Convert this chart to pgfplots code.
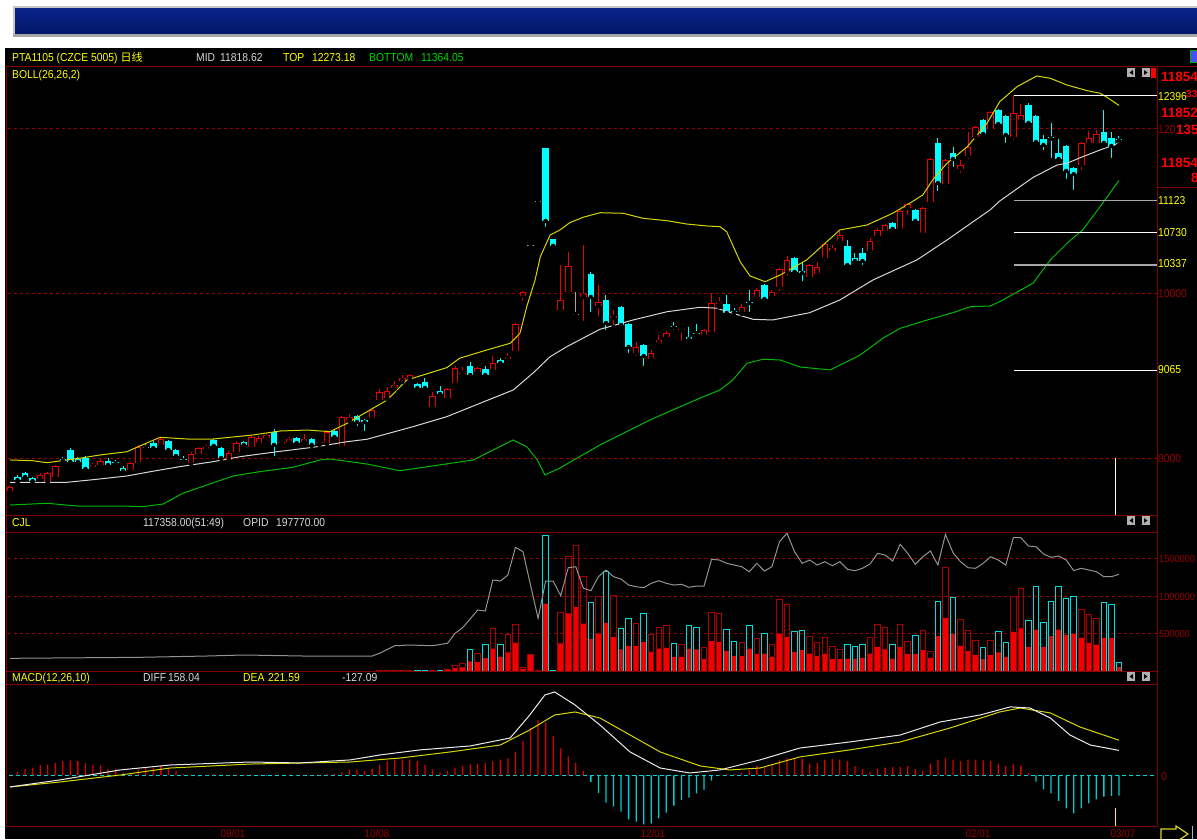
\documentclass[border=0pt]{standalone}
\usepackage{pgfplots}
\pgfplotsset{compat=1.18}
\usepackage{pgfplotstable}
\usepackage{fontspec}
\setmainfont{Liberation Sans}
\newfontfamily\ui{Liberation Sans}[FakeStretch=0.9]
\newfontfamily\cjk{Noto Sans CJK SC}
\definecolor{frame}{RGB}{128,0,0}
\definecolor{gridred}{RGB}{150,0,0}
\definecolor{cred}{RGB}{235,0,0}
\definecolor{ccyan}{RGB}{0,255,255}
\definecolor{bollup}{RGB}{215,215,0}
\definecolor{bollmid}{RGB}{215,215,215}
\definecolor{bolllow}{RGB}{0,185,0}
\definecolor{volred}{RGB}{240,0,0}
\definecolor{voloutred}{RGB}{170,0,0}
\definecolor{voloutcyan}{RGB}{0,220,220}
\definecolor{macdred}{RGB}{215,0,0}
\definecolor{macdcyan}{RGB}{0,205,205}
\definecolor{txtyellow}{RGB}{255,255,0}
\definecolor{txtwhite}{RGB}{215,215,215}
\definecolor{txtgreen}{RGB}{0,215,0}
\definecolor{navyA}{RGB}{10,36,138}
\definecolor{navyB}{RGB}{2,22,105}
\definecolor{darklbl}{RGB}{150,0,0}

% ---------------- candles: i open high low close ----------------
\pgfplotstableread{
i o h l c
0 7600 7661 7588 7649
4 7746 7818 7733 7794
5 7697 7830 7685 7818
6 7770 7915 7758 7903
11 7891 7940 7843 7915
12 7915 7988 7891 7964
16 7855 7952 7843 7940
17 7940 8158 7927 8133
20 8158 8255 8133 8230
24 7940 8073 7927 8049
25 8049 8133 8024 8121
26 8109 8158 8085 8133
29 7976 8085 7964 8061
30 8073 8206 8061 8182
32 8133 8279 8121 8255
33 8182 8267 8170 8242
34 8242 8303 8218 8279
36 8176 8218 8170 8188
37 8194 8255 8182 8230
39 8194 8291 8182 8230
41 8176 8206 8158 8188
42 8182 8339 8170 8315
44 8146 8509 8133 8497
45 8461 8533 8449 8497
48 8485 8606 8473 8582
49 8703 8836 8691 8800
50 8727 8861 8715 8812
51 8849 8933 8836 8885
52 8933 9006 8921 8970
53 8958 9018 8945 9006
56 8618 8800 8606 8752
58 8727 8849 8715 8836
59 8909 9115 8897 9091
60 9024 9103 8982 9036
62 9042 9103 9030 9091
64 9067 9236 9030 9152
66 9200 9273 9188 9224
67 9297 9636 9248 9624
68 9964 10024 9879 10012
73 9794 10339 9794 9915
74 10012 10497 10012 10327
76 9952 10582 9636 9988
78 9842 10097 9697 9891
80 9697 9794 9588 9721
83 9273 9406 9212 9345
85 9200 9309 9152 9273
86 9394 9491 9370 9430
87 9467 9539 9442 9515
89 9546 9564 9394 9558
92 9491 9564 9467 9552
93 9527 10000 9491 9879
94 9867 9952 9830 9891
97 9770 9867 9745 9830
99 9952 10061 9939 10036
101 9964 10036 9915 10012
102 10073 10303 10000 10291
103 10255 10448 10182 10400
106 10194 10352 10158 10339
107 10230 10376 10218 10315
108 10424 10606 10364 10594
109 10509 10582 10485 10545
110 10630 10752 10618 10703
114 10509 10667 10485 10630
115 10691 10788 10679 10764
116 10752 10836 10739 10824
118 10776 11006 10764 10994
119 11030 11091 10921 11079
121 10727 11042 10715 11030
122 11103 11636 11091 11624
124 11321 11624 11261 11612
126 11503 11612 11430 11552
127 11661 11952 11600 11770
128 11891 12024 11830 12012
130 11988 12206 11964 12194
133 11891 12400 11830 12182
134 12097 12291 12048 12158
142 11552 11830 11467 11818
143 11818 11964 11770 11879
144 11818 11976 11806 11927
}\candUp

\pgfplotstableread{
i o h l c
1 7770 7794 7709 7733
2 7818 7830 7758 7770
3 7758 7770 7709 7721
7 7982 8012 7940 7970
8 8097 8121 7940 7952
9 7988 8012 7927 7952
10 8000 8024 7855 7867
13 7964 8000 7903 7915
14 7946 7976 7903 7934
15 7879 7903 7830 7843
19 8182 8206 8109 8121
21 8206 8218 8085 8097
22 8097 8109 8000 8024
23 7982 8024 7952 7970
27 8218 8230 8133 8146
28 8121 8133 7988 8000
31 8194 8206 8146 8158
35 8315 8352 8000 8158
38 8242 8255 8170 8182
40 8230 8242 8146 8158
43 8327 8339 8218 8255
46 8509 8521 8364 8436
47 8461 8473 8303 8436
54 8897 8909 8836 8849
55 8921 8970 8800 8849
57 8812 8873 8752 8776
61 9115 9164 8970 9006
63 9079 9115 8970 9006
65 9188 9212 9127 9152
71 11758 11758 10776 10873
72 10655 10655 10570 10570
77 10230 10255 9745 9952
79 9915 9976 9527 9636
81 9830 9842 9588 9612
82 9624 9636 9248 9345
84 9370 9382 9091 9236
88 9594 9648 9527 9582
90 9467 9588 9430 9442
91 9521 9624 9491 9509
95 9867 9976 9733 9758
96 9776 9818 9721 9764
98 9891 10036 9745 9879
100 10097 10109 9891 9927
104 10424 10436 10242 10255
105 10267 10364 10121 10242
111 10570 10642 10327 10339
112 10424 10485 10364 10388
113 10485 10545 10315 10388
117 10848 10861 10752 10776
120 11006 11018 10824 10873
123 11818 11879 11212 11333
125 11697 11770 11503 11624
129 12097 12109 11903 11927
131 12218 12230 12012 12048
132 12145 12158 11794 11915
135 12279 12303 12048 12061
136 12145 12158 11818 11830
137 11867 11915 11709 11794
138 11885 12061 11612 11873
139 11697 11867 11588 11624
140 11782 11794 11358 11479
141 11515 11527 11224 11442
145 11952 12218 11782 11818
146 11879 11952 11612 11782
147 11861 11903 11794 11849
}\candDown

\pgfplotstableread{
i o h l c
18 8133 8170 8097 8133
69 10570 10570 10521 10570
70 11103 11103 11103 11103
75 9745 10012 9745 9745
}\candGray

% ---------------- volume: i volume inner ----------------
\pgfplotstableread{
i v f
49 8000 8000
50 6000 6000
51 8000 8000
52 5000 5000
53 12000 12000
56 5000 5000
58 20000 20000
59 77000 40000
60 95000 50000
62 240000 120000
64 567000 300000
66 490000 247000
67 614000 375000
68 50000 30000
69 224000 224000
70 10000 10000
73 775000 367000
74 1521000 767000
75 1677000 855000
76 1255000 633000
78 993000 500000
80 1011000 455000
83 633000 335000
85 487000 255000
86 580000 300000
87 611000 308000
89 353000 188000
92 308000 157000
93 780000 397000
94 767000 388000
97 380000 197000
99 433000 224000
101 353000 188000
102 953000 500000
103 891000 455000
106 455000 233000
107 380000 197000
108 441000 228000
109 321000 157000
110 291000 157000
114 447000 233000
115 624000 321000
116 575000 287000
118 624000 321000
119 388000 224000
121 535000 277000
122 255000 175000
124 1375000 708000
126 687000 335000
127 535000 268000
128 401000 211000
130 401000 211000
133 988000 521000
134 1100000 567000
142 820000 441000
143 753000 375000
144 700000 353000
}\volUp

\pgfplotstableread{
i v f
54 5000 5000
55 8000 8000
57 8000 8000
61 287000 130000
63 357000 172000
65 357000 190000
71 1810000 900000
72 10000 5000
77 908000 433000
79 1321000 641000
81 567000 287000
82 700000 335000
84 767000 388000
88 367000 188000
90 611000 300000
91 575000 287000
95 553000 268000
96 397000 197000
98 611000 300000
100 500000 233000
104 521000 255000
105 535000 277000
111 353000 166000
112 321000 166000
113 353000 175000
117 353000 166000
120 468000 228000
123 931000 464000
125 980000 500000
129 308000 157000
131 521000 250000
132 380000 188000
135 677000 321000
136 1121000 553000
137 647000 321000
138 931000 464000
139 1121000 553000
140 967000 477000
141 993000 500000
145 908000 441000
146 887000 441000
147 113000 55000
}\volDown

% ---------------- open interest ----------------
\pgfplotstableread{
i v
0 26000
17 28000
26 30700
31 32800
39 30700
48 30700
49 36300
51 51800
53 53300
56 51800
58 56800
59 77300
60 88700
62 125000
63 123000
64 186500
65 184400
66 196700
67 253500
68 244500
70 108000
71 184400
72 184400
73 154300
74 211700
75 213700
76 169500
77 164600
78 193300
79 207000
80 193300
81 188500
82 176200
83 172800
84 170700
85 179700
86 185100
87 179700
88 176200
89 177700
90 171500
91 174200
92 174200
93 228900
94 227500
95 220700
96 217200
97 213700
98 203500
99 220700
100 204900
101 213700
102 265000
103 282200
104 244500
105 220700
106 227500
107 217200
108 224000
109 215800
110 224000
111 208400
112 205600
113 210500
114 219300
115 241200
116 237700
117 225400
118 259700
119 241200
120 218700
121 234200
122 245900
123 217200
124 280200
125 242400
126 224000
127 211700
128 210500
129 220700
130 234200
131 227500
132 217200
133 273200
134 273200
135 256200
136 254700
137 239800
138 233000
139 235700
140 227500
141 205600
142 210500
143 207000
144 203500
145 193300
146 193300
147 198200
}\oiTab

% ---------------- MACD histogram ----------------
\pgfplotstableread{
i v
1 21
2 42
3 48
4 63
5 69
6 80
7 90
8 95
9 90
10 76
11 69
12 63
13 42
14 38
15 17
16 13
17 38
18 48
19 48
20 59
21 48
22 27
23 10
24 5
26 3
27 8
29 2
30 6
31 4
32 6
33 3
35 5
36 2
37 4
38 3
39 6
40 4
41 2
42 8
43 10
44 21
45 38
46 38
47 27
48 42
49 69
50 90
51 101
52 101
53 101
54 90
55 69
56 38
57 20
58 30
59 50
60 60
61 70
62 75
63 80
64 90
65 100
66 110
67 150
68 220
69 300
70 350
71 330
72 250
73 170
74 120
75 80
76 30
94 3
95 9
96 9
97 18
98 35
99 60
100 55
101 65
102 98
103 110
104 110
105 105
106 75
107 80
108 100
109 105
110 100
111 90
112 60
113 40
114 25
115 45
116 50
117 55
118 55
119 60
120 40
121 30
122 75
123 100
124 110
125 100
126 90
127 100
128 100
129 95
130 90
131 75
132 60
133 70
134 60
135 15
}\macdPos

\pgfplotstableread{
i v
25 -5
28 -4
34 -3
77 -40
78 -110
79 -171
80 -196
81 -228
82 -276
83 -291
84 -307
85 -301
86 -270
87 -234
88 -190
89 -154
90 -140
91 -112
92 -91
93 -33
136 -39
137 -87
138 -112
139 -159
140 -207
141 -238
142 -207
143 -175
144 -150
145 -133
146 -129
147 -127
}\macdNeg

\pgfplotsset{
  panel/.style={scale only axis, hide axis, clip=true, xmin=-0.53, xmax=152.04,
    width=1151pt, anchor=north west},
}
\tikzset{
  lbl/.style={anchor=base west, inner sep=0pt, font=\ui\fontsize{11.5}{13}\selectfont},
  vlbl/.style={anchor=base west, inner sep=0pt, font=\ui\fontsize{10.2}{12}\selectfont},
  redlbl/.style={anchor=base west, inner sep=0pt, font=\bfseries\fontsize{13.5}{15}\selectfont, color=red},
}

\begin{document}
\begin{tikzpicture}
\useasboundingbox (0,0) rectangle (1197pt,-839pt);
\clip (0,0) rectangle (1197pt,-839pt);
\begin{scope}[x=1pt,y=-1pt]
  \fill[white] (0,0) rectangle (1197,839);
  \fill[black] (5,48) rectangle (1197,839);
  % title bar
  \fill[gray!45] (13,6) rectangle (1197,37);
  \shade[top color=navyA, bottom color=navyB] (15,8) rectangle (1197,34);
  \fill[gray!70] (13,34) rectangle (1197,37);
\end{scope}

% ================= main price panel =================
\begin{axis}[panel, at={(6pt,-66pt)}, height=449pt, ymin=7309, ymax=12751]
  \draw[gridred, dash pattern=on 3pt off 3pt] (axis cs:-1,8000) -- (axis cs:153,8000);
  \draw[gridred, dash pattern=on 3pt off 3pt] (axis cs:-1,10000) -- (axis cs:153,10000);
  \draw[gridred, dash pattern=on 3pt off 3pt] (axis cs:-1,12000) -- (axis cs:153,12000);
  % wicks
  \addplot[only marks, mark=none, forget plot, error bars/.cd, y dir=plus, y explicit,
    error mark=none, error bar style={line width=1pt, color=cred}]
    table[x=i, y=l, y error plus expr={\thisrow{h}-\thisrow{l}}] {\candUp};
  \addplot[only marks, mark=none, forget plot, error bars/.cd, y dir=plus, y explicit,
    error mark=none, error bar style={line width=1pt, color=ccyan}]
    table[x=i, y=l, y error plus expr={\thisrow{h}-\thisrow{l}}] {\candDown};
  \addplot[only marks, mark=none, forget plot, error bars/.cd, y dir=plus, y explicit,
    error mark=none, error bar style={line width=1pt, color=gray!70}]
    table[x=i, y=l, y error plus expr={\thisrow{h}-\thisrow{l}}] {\candGray};
  % bodies
  \addplot[only marks, mark=none, forget plot, error bars/.cd, y dir=plus, y explicit,
    error mark=none, error bar style={line width=6.5pt, color=cred}]
    table[x=i, y=o, y error plus expr={\thisrow{c}-\thisrow{o}}] {\candUp};
  \addplot[only marks, mark=none, forget plot, error bars/.cd, y dir=plus, y explicit,
    error mark=none, error bar style={line width=4.5pt, color=black}]
    table[x=i, y expr={\thisrow{o}+12}, y error plus expr={max(\thisrow{c}-\thisrow{o}-24,0)}] {\candUp};
  \addplot[only marks, mark=none, forget plot, error bars/.cd, y dir=plus, y explicit,
    error mark=none, error bar style={line width=6.5pt, color=ccyan}]
    table[x=i, y=c, y error plus expr={\thisrow{o}-\thisrow{c}}] {\candDown};
  \addplot[only marks, mark=none, forget plot, error bars/.cd, y dir=plus, y explicit,
    error mark=none, error bar style={line width=6.5pt, color=gray!75}]
    table[x=i, y expr={\thisrow{o}-6}, y error plus expr={12}] {\candGray};
  % Bollinger bands
  \addplot[bollup, line width=1pt] coordinates {
    (0,7976) (3,7967) (4.9,7943) (6.6,7964) (9.7,8004) (11.9,8036) (15.5,8076) (17.2,8145)
    (19.9,8251) (23.5,8230) (26.9,8230) (32.2,8279) (35.8,8327) (39.4,8339) (42.4,8319)
    (44.7,8421) (48.1,8602) (50,8703) (52.6,8945) (57.9,9095) (59.6,9209) (63.2,9309)
    (66.3,9390) (67.6,9512) (68.5,9834) (69.6,10158) (70.3,10440) (71.6,10703) (72.9,10764)
    (74.2,10852) (76,10918) (78.2,10973) (81.3,10966) (83.9,10905) (87.1,10876) (89.7,10836)
    (92.4,10812) (94.1,10804) (95,10743) (96.8,10376) (98.1,10206) (100.1,10137) (102.1,10218)
    (105.6,10400) (110,10764) (113.6,10824) (117,10966) (118.9,11067) (121,11188) (122.3,11370)
    (124.2,11572) (126.9,11773) (129.5,12057) (131.2,12319) (133.5,12501) (136.1,12630)
    (137.9,12602) (140.1,12521) (142.8,12452) (144.5,12421) (145.4,12372) (147,12273)};
  \addplot[bollmid, line width=1pt] coordinates {
    (0,7706) (7.6,7706) (10.6,7733) (15.5,7782) (18.6,7834) (22.5,7895) (26.9,7955)
    (30.5,8016) (35.4,8076) (40.2,8130) (44.7,8198) (47.3,8227) (53.4,8379) (57.9,8501)
    (62.3,8663) (66.7,8824) (69.3,9027) (71.6,9228) (73.8,9349) (78.2,9560) (82.6,9673)
    (87.1,9773) (91.5,9827) (93.7,9815) (95.8,9754) (98.5,9681) (101.1,9673) (106,9761)
    (110,9915) (114.4,10158) (120.2,10400) (124.2,10642) (129.9,11006) (131.2,11115)
    (135.6,11400) (138.8,11551) (140.1,11572) (142.2,11652) (144.5,11733) (147,11819)};
  \addplot[bolllow, line width=1pt] coordinates {
    (0,7430) (4.9,7451) (8.9,7418) (15,7418) (17.6,7410) (20.3,7442) (22.9,7572) (26.1,7673)
    (29.6,7782) (33.1,7834) (37.5,7887) (41.1,7976) (42.4,7988) (45.1,7955) (47.3,7927)
    (51.7,7846) (61.4,7976) (66.7,8218) (68.5,8137) (69.9,7976) (70.9,7794) (72.9,7879)
    (78.2,8158) (84.8,8461) (91.5,8727) (94.1,8824) (95.8,8945) (97.7,9148) (99.8,9196)
    (102.1,9188) (104.7,9103) (108.7,9067) (112.7,9248) (115.7,9451) (118,9572) (121.6,9673)
    (125,9761) (127.3,9834) (129.9,9842) (131.2,9895) (135.6,10118) (137.9,10400)
    (140.1,10602) (142.2,10764) (144.5,11046) (147,11364)};
  % level lines
  \addplot[white, line width=1pt] coordinates {(133.1,12396) (153,12396)};
  \addplot[gray!70, line width=1.6pt] coordinates {(133.1,11123) (153,11123)};
  \addplot[white, line width=1pt] coordinates {(133.1,10730) (153,10730)};
  \addplot[gray!70, line width=1.6pt] coordinates {(133.1,10337) (153,10337)};
  \addplot[white, line width=1pt] coordinates {(133.1,9065) (153,9065)};
  \addplot[white!80!yellow, line width=1pt] coordinates {(146.5,8000) (146.5,7300)};
\end{axis}

% ================= volume panel =================
\begin{axis}[panel, at={(6pt,-533pt)}, height=138pt, ymin=0, ymax=1840000]
  \draw[gridred, dash pattern=on 3pt off 3pt] (axis cs:-1,500000) -- (axis cs:153,500000);
  \draw[gridred, dash pattern=on 3pt off 3pt] (axis cs:-1,1000000) -- (axis cs:153,1000000);
  \draw[gridred, dash pattern=on 3pt off 3pt] (axis cs:-1,1500000) -- (axis cs:153,1500000);
  \addplot[ybar, bar width=5.5pt, bar shift=0pt, fill=volred, draw=none] table[x=i, y=f] {\volUp};
  \addplot[ybar, bar width=5.5pt, bar shift=0pt, fill=volred, draw=none] table[x=i, y=f] {\volDown};
  \addplot[ybar, bar width=5.5pt, bar shift=0pt, fill=none, draw=voloutred, line width=1pt] table[x=i, y=v] {\volUp};
  \addplot[ybar, bar width=5.5pt, bar shift=0pt, fill=none, draw=voloutcyan, line width=1pt] table[x=i, y=v] {\volDown};
\end{axis}
\begin{axis}[panel, at={(6pt,-533pt)}, height=138pt, ymin=0, ymax=282820]
  \addplot[gray!85, line width=1pt] table[x=i, y=v] {\oiTab};
\end{axis}

% ================= MACD panel =================
\begin{axis}[panel, at={(6pt,-684pt)}, height=142pt, ymin=-318, ymax=576]
  \draw[ccyan!85!black, dash pattern=on 4pt off 3pt, line width=0.9pt] (axis cs:-1,0) -- (axis cs:153,0);
  \addplot[ybar, bar width=1.3pt, bar shift=0pt, fill=macdred, draw=none] table[x=i, y=v] {\macdPos};
  \addplot[ybar, bar width=1.3pt, bar shift=0pt, fill=macdcyan, draw=none] table[x=i, y=v] {\macdNeg};
  \addplot[bollup, line width=1pt] coordinates {
    (0,-72) (6.6,-41) (14.6,3) (21.2,47) (31.8,72) (45.1,85) (51.7,110) (58.3,148) (65,192)
    (68.9,287) (72.2,381) (74.9,400) (78.2,362) (82.2,255) (86.2,148) (91.5,60) (95.4,35)
    (99.4,47) (104.7,117) (111.3,161) (118,211) (124.6,299) (131.2,400) (133.9,425)
    (137.9,394) (141.8,306) (147,222)};
  \addplot[white!85!gray, line width=1pt] coordinates {
    (0,-72) (6.6,-28) (14.6,35) (21.2,66) (31.8,85) (38.4,79) (45.1,98) (49,129) (54.3,161)
    (61,186) (66.3,236) (68.9,381) (70.9,507) (72.2,526) (74.9,444) (78.2,318) (82.2,148)
    (86.2,47) (90.1,16) (94.1,35) (99.4,98) (104.7,173) (111.3,211) (118,255) (123.3,337)
    (128.6,381) (132.6,432) (135.2,425) (137.9,362) (140.5,255) (143.2,192) (147,158)};
\end{axis}

% ================= frame and texts =================
\begin{scope}[x=1pt,y=-1pt]
  \draw[frame, line width=1pt] (5,66.5) -- (1197,66.5);
  \draw[frame, line width=1pt] (6.5,66) -- (6.5,827);
  \draw[frame, line width=1pt] (1157,66) -- (1157,827);
  \draw[frame, line width=1pt] (5,515) -- (1157,515);
  \draw[frame, line width=1pt] (5,532.5) -- (1157,532.5);
  \draw[frame, line width=1pt] (5,671) -- (1157,671);
  \draw[frame, line width=1pt] (5,684) -- (1157,684);
  \draw[frame, line width=1pt] (5,826.5) -- (1157,826.5);
  \draw[frame, line width=1pt] (1157,187) -- (1197,187);
  % cursor marks
  \draw[yellow, line width=1pt] (1115,808) -- (1115,826);
  % buttons
  \foreach \yy in {68,516,672}{
    \fill[gray!60] (1127,\yy) rectangle (1135,\yy+9);
    \fill[black] (1129.5,\yy+4.5) -- (1133,\yy+2) -- (1133,\yy+7) -- cycle;
    \fill[gray!60] (1142,\yy) rectangle (1150,\yy+9);
    \fill[black] (1147.5,\yy+4.5) -- (1144,\yy+2) -- (1144,\yy+7) -- cycle;
  }
  \fill[red] (1151,68) rectangle (1156,78);
  \fill[blue!70] (1190,50) rectangle (1197,62);
  \draw[green!70!black] (1190,50) rectangle (1197,62);
  % header
  \node[lbl, txtyellow] at (12,61.5) {PTA1105 (CZCE 5005) {\cjk\fontsize{11}{12}\selectfont 日线}};
  \node[lbl, txtwhite] at (196,61.5) {MID};
  \node[lbl, txtwhite] at (220,61.5) {11818.62};
  \node[lbl, txtyellow] at (283,61.5) {TOP};
  \node[lbl, txtyellow] at (312,61.5) {12273.18};
  \node[lbl, txtgreen] at (369,61.5) {BOTTOM};
  \node[lbl, txtgreen] at (421,61.5) {11364.05};
  \node[lbl, txtyellow] at (12,78.5) {BOLL(26,26,2)};
  \node[lbl, txtyellow] at (12,526.5) {CJL};
  \node[lbl, txtwhite] at (143,526.5) {117358.00(51:49)};
  \node[lbl, txtwhite] at (243,526.5) {OPID};
  \node[lbl, txtwhite] at (276,526.5) {197770.00};
  \node[lbl, txtyellow] at (12,681.5) {MACD(12,26,10)};
  \node[lbl, txtwhite] at (143,681.5) {DIFF};
  \node[lbl, txtwhite] at (168,681.5) {158.04};
  \node[lbl, txtyellow] at (243,681.5) {DEA};
  \node[lbl, txtyellow] at (268,681.5) {221.59};
  \node[lbl, txtwhite] at (342,681.5) {-127.09};
  % right scale
  \node[redlbl] at (1161,81) {11854};
  \node[lbl, txtyellow] at (1158,100) {12396};
  \node[redlbl, font=\bfseries\fontsize{10}{12}\selectfont] at (1186,97) {33};
  \node[redlbl] at (1161,117) {11852};
  \node[lbl, darklbl] at (1158,133) {120};
  \node[redlbl] at (1176,134) {135};
  \node[redlbl] at (1161,167) {11854};
  \node[redlbl] at (1191,182) {8};
  \node[lbl, txtyellow] at (1158,204) {11123};
  \node[lbl, txtyellow] at (1158,236.5) {10730};
  \node[lbl, txtyellow] at (1158,267.5) {10337};
  \node[lbl, darklbl] at (1158,297) {10000};
  \node[lbl, txtyellow] at (1158,373) {9065};
  \node[lbl, darklbl] at (1158,462) {8000};
  \node[vlbl, darklbl] at (1159,562) {1500000};
  \node[vlbl, darklbl] at (1159,600) {1000000};
  \node[vlbl, darklbl] at (1159,637) {500000};
  \node[lbl, darklbl] at (1161,780) {0};
  % dates
  \foreach \xx/\dd in {233/09\slash 01,377/10\slash 08,653/12\slash 01,978/02\slash 01,1123/03\slash 07}{
    \node[anchor=base, inner sep=0pt, darklbl, font=\ui\fontsize{11}{12}\selectfont] at (\xx,837.5) {\dd};
  }
  % corner arrow icon
  \draw[yellow!85!black, line width=1.2pt] (1161,839) -- (1161,829) -- (1176,829) -- (1176,826) -- (1188,834) -- (1176,842);
  \draw[gray!60, line width=1pt] (1192,826) -- (1192,839);
\end{scope}
\end{tikzpicture}
\end{document}
